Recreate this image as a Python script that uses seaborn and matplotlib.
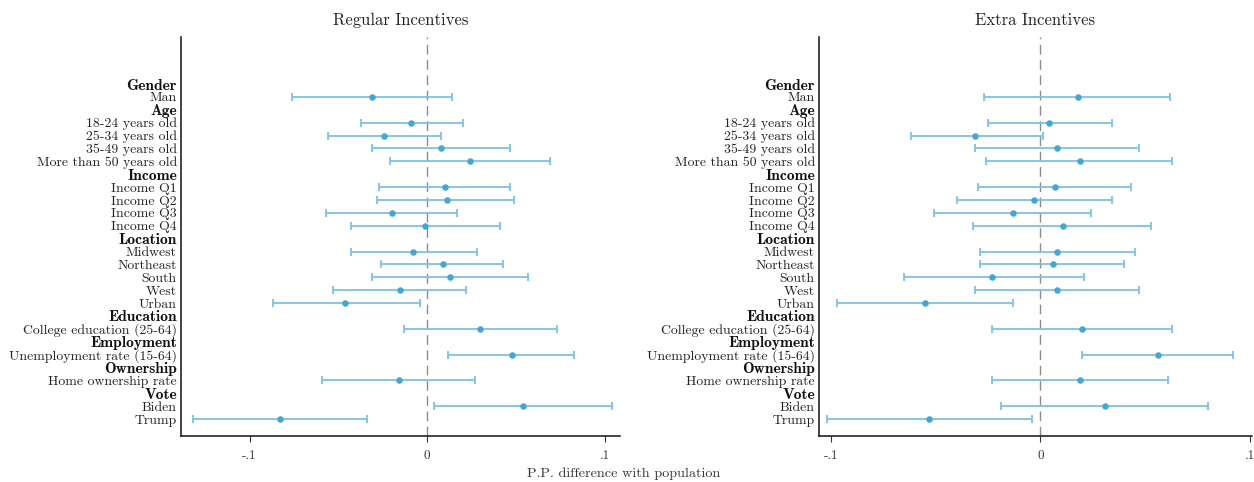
import numpy as np
import pandas as pd
import matplotlib
matplotlib.use("Agg")
import matplotlib.pyplot as plt
import seaborn as sns

# Row labels (group headers are drawn in bold and carry no estimate)
labels = [
    "Gender", "Man",
    "Age", "18-24 years old", "25-34 years old", "35-49 years old", "More than 50 years old",
    "Income", "Income Q1", "Income Q2", "Income Q3", "Income Q4",
    "Location", "Midwest", "Northeast", "South", "West", "Urban",
    "Education", "College education (25-64)",
    "Employment", "Unemployment rate (15-64)",
    "Ownership", "Home ownership rate",
    "Vote", "Biden", "Trump",
]
headers = ["Gender", "Age", "Income", "Location", "Education", "Employment", "Ownership", "Vote"]

nan = np.nan
# Regular incentives: point estimate and 95% CI bounds
reg_est = [nan, -0.031, nan, -0.009, -0.024, 0.008, 0.024, nan, 0.010, 0.011, -0.020, -0.001,
           nan, -0.008, 0.009, 0.013, -0.015, -0.046, nan, 0.030, nan, 0.048, nan, -0.016,
           nan, 0.054, -0.083]
reg_lo = [nan, -0.076, nan, -0.037, -0.056, -0.031, -0.021, nan, -0.027, -0.028, -0.057, -0.043,
          nan, -0.043, -0.026, -0.031, -0.053, -0.087, nan, -0.013, nan, 0.012, nan, -0.059,
          nan, 0.004, -0.132]
reg_hi = [nan, 0.014, nan, 0.020, 0.008, 0.047, 0.069, nan, 0.047, 0.049, 0.017, 0.041,
          nan, 0.028, 0.043, 0.057, 0.022, -0.004, nan, 0.073, nan, 0.083, nan, 0.027,
          nan, 0.104, -0.034]

# Extra incentives: point estimate and 95% CI bounds
ext_est = [nan, 0.018, nan, 0.004, -0.031, 0.008, 0.019, nan, 0.007, -0.003, -0.013, 0.011,
           nan, 0.008, 0.006, -0.023, 0.008, -0.055, nan, 0.020, nan, 0.056, nan, 0.019,
           nan, 0.031, -0.053]
ext_lo = [nan, -0.027, nan, -0.025, -0.062, -0.031, -0.026, nan, -0.030, -0.040, -0.051, -0.032,
          nan, -0.029, -0.029, -0.065, -0.031, -0.097, nan, -0.023, nan, 0.020, nan, -0.023,
          nan, -0.019, -0.102]
ext_hi = [nan, 0.062, nan, 0.034, 0.001, 0.047, 0.063, nan, 0.043, 0.034, 0.024, 0.053,
          nan, 0.045, 0.040, 0.021, 0.047, -0.013, nan, 0.063, nan, 0.092, nan, 0.061,
          nan, 0.080, -0.004]

tick_vals = [-0.1, 0.0, 0.1]
tick_text = ["-.1", "0", ".1"]

sns.set_theme(style="white")
plt.rcParams["font.family"] = ["cmr10", "DejaVu Serif"]
plt.rcParams["axes.unicode_minus"] = False

dot_color = "#45a6d0"
bar_color = "#7cc3e0"

fig = plt.figure(figsize=(12.54, 4.82), dpi=100)
ax_l = fig.add_axes([181 / 1254, 1 - 436 / 482, (620 - 181) / 1254, (436 - 37) / 482])
ax_r = fig.add_axes([819 / 1254, 1 - 436 / 482, (1252 - 819) / 1254, (436 - 37) / 482])

panels = [
    (ax_l, "Regular Incentives", reg_est, reg_lo, reg_hi, (-0.1386, 0.1087)),
    (ax_r, "Extra Incentives", ext_est, ext_lo, ext_hi, (-0.1057, 0.1010)),
]

pos = np.arange(len(labels))
for ax, title, est, lo, hi, xlim in panels:
    df = pd.DataFrame({"row": pos, "est": est, "lo": lo, "hi": hi}).dropna()
    ax.axvline(0, color="#8c8c8c", lw=1.0, ls=(0, (7, 4)), zorder=1)
    ax.errorbar(df["est"], df["row"],
                xerr=[df["est"] - df["lo"], df["hi"] - df["est"]],
                fmt="none", ecolor=bar_color, elinewidth=1.3, capsize=3, capthick=1.3, zorder=2)
    sns.scatterplot(data=df, x="est", y="row", ax=ax, color=dot_color, s=22,
                    edgecolor=dot_color, linewidth=0, zorder=3)
    ax.set_xlim(*xlim)
    ax.set_ylim(27.32, -3.65)
    ax.set_yticks(pos)
    ax.set_yticklabels(labels)
    for t, name in zip(ax.get_yticklabels(), labels):
        t.set_fontsize(9.9)
        t.set_color("#222222")
        if name in headers:
            t.set_family(["cmb10", "DejaVu Serif"])
            t.set_fontsize(11.2)
            t.set_color("#111111")
    ax.set_xticks(tick_vals)
    ax.set_xticklabels(tick_text, fontsize=9.5, color="#333333")
    ax.tick_params(axis="y", length=0, pad=3)
    ax.tick_params(axis="x", length=4, width=0.8, color="#333333", pad=6, bottom=True)
    ax.set_xlabel("")
    ax.set_ylabel("")
    for side in ["top", "right"]:
        ax.spines[side].set_visible(False)
    for side in ["left", "bottom"]:
        ax.spines[side].set_color("#111111")
        ax.spines[side].set_linewidth(1.1)
    ax.set_title(title, fontsize=12, color="#222222", pad=9)

fig.text(624 / 1254, 1 - 474 / 482, "P.P. difference with population",
         ha="center", va="center", fontsize=10.2, color="#333333")

fig.savefig("out.png", dpi=100)
